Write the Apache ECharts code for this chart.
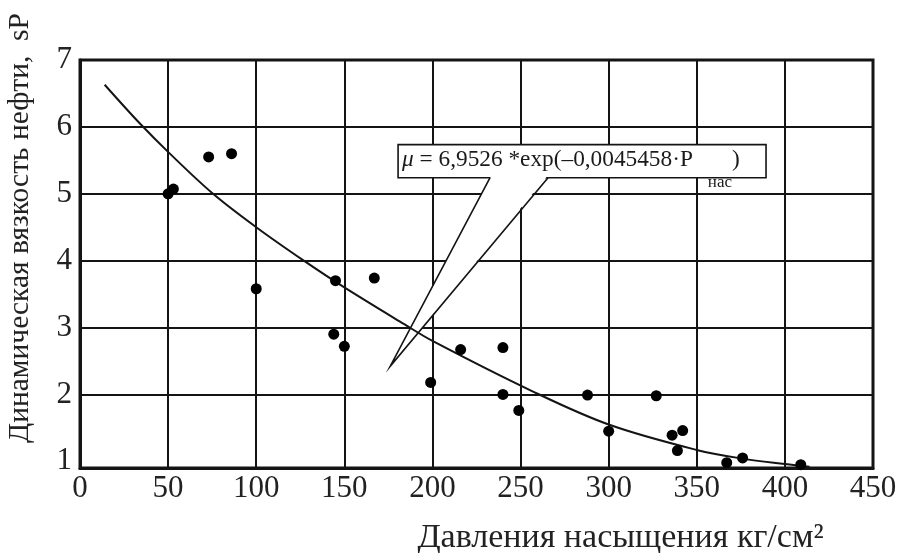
<!DOCTYPE html>
<html><head><meta charset="utf-8">
<script src="https://cdn.jsdelivr.net/npm/echarts@6/dist/echarts.min.js"></script>
<style>html,body{margin:0;padding:0;background:#fff}#c{width:897px;height:553px}</style>
</head><body><div id="c"></div>
<script>
// Measured points: saturation pressure (kg/cm2) vs. dynamic oil viscosity (sP)
const pressure  = [50, 53, 73, 86, 100, 145, 167, 144, 150, 199, 216, 240, 240, 249, 288, 327, 300, 336, 342, 339, 367, 376, 409];
const viscosity = [5.0, 5.07, 5.55, 5.6, 3.58, 3.7, 3.74, 2.9, 2.72, 2.18, 2.67, 2.70, 2.0, 1.76, 1.99, 1.98, 1.45, 1.39, 1.46, 1.16, 0.98, 1.05, 0.95];

// Trend curve as drawn in the figure
const curvePressure  = [14, 34, 51, 75.5, 100, 127, 150, 184, 200, 256.5, 300, 350, 376, 400, 414];
const curveViscosity = [6.63, 6.05, 5.6, 5.0, 4.5, 4.0, 3.6, 3.05, 2.8, 2.05, 1.55, 1.17, 1.04, 0.96, 0.92];

// Axis ticks / grid lines
const xGridValues = [50, 100, 150, 200, 250, 300, 350, 400];
const yGridValues = [2, 3, 4, 5, 6];

// Labels
const xAxisName = 'Давления насыщения кг/см²';
const yAxisName = 'Динамическая вязкость нефти,  sP';
const formulaRich = '{i|μ} = 6,9526 *exp(–0,0045458·P{s|нас})';

// Callout anchors (data coordinates)
const calloutTopLeft = [180.5, 5.735];
const calloutBottomRight = [389.3, 5.24];
const calloutBaseX = [232.7, 265.6];
const calloutTip = [176, 2.42];

const FONT = '"Liberation Serif", "Times New Roman", serif';
const INK = '#141414';

const chart = echarts.init(document.getElementById('c'), null, {renderer: 'canvas'});

const gridLineData = yGridValues.map(v => ({yAxis: v})).concat(xGridValues.map(v => ({xAxis: v})));

chart.setOption({
  animation: false,
  backgroundColor: '#fff',
  grid: {left: 80, right: 24, top: 60, bottom: 85, containLabel: false, outerBoundsMode: 'none',
         show: true, borderColor: INK, borderWidth: 3, backgroundColor: 'transparent'},
  xAxis: {
    type: 'value', min: 0, max: 450, interval: 50,
    name: xAxisName, nameLocation: 'middle', nameGap: 53,
    nameTextStyle: {fontFamily: FONT, fontSize: 34, color: '#222', padding: [0, 0, 0, 288]},
    axisLine: {show: true, lineStyle: {color: INK, width: 3}},
    axisTick: {show: false},
    splitLine: {show: false},
    axisLabel: {fontFamily: FONT, fontSize: 31, color: '#222', margin: 5}
  },
  yAxis: {
    type: 'value', min: 0.9, max: 7, splitNumber: 6,
    name: yAxisName, nameLocation: 'middle', nameGap: 45, nameRotate: 90,
    nameTextStyle: {fontFamily: FONT, fontSize: 29.5, color: '#222', padding: [0, 0, 0, 72]},
    axisLine: {show: true, lineStyle: {color: INK, width: 3}},
    axisTick: {show: false},
    splitLine: {show: false},
    axisLabel: {fontFamily: FONT, fontSize: 31, color: '#222', margin: 8,
      formatter: v => (Math.abs(v - Math.round(v)) < 1e-6 ? String(Math.round(v)) : '')}
  },
  series: [
    {
      type: 'line', data: [], z: 1, silent: true,
      markLine: {
        silent: true, symbol: 'none', animation: false, z: 1,
        label: {show: false},
        lineStyle: {color: INK, width: 2, type: 'solid'},
        emphasis: {disabled: true},
        data: gridLineData
      }
    },
    {
      type: 'custom', z: 2, silent: true, data: [[0]],
      renderItem: function (params, api) {
        const tl = api.coord(calloutTopLeft);
        const br = api.coord(calloutBottomRight);
        const b1 = api.coord([calloutBaseX[0], calloutBottomRight[1]]);
        const b2 = api.coord([calloutBaseX[1], calloutBottomRight[1]]);
        const tip = api.coord(calloutTip);
        return {
          type: 'group',
          children: [
            {type: 'rect', shape: {x: tl[0], y: tl[1], width: br[0] - tl[0], height: br[1] - tl[1]},
             style: {fill: '#fff', stroke: INK, lineWidth: 1.6}},
            {type: 'polygon', shape: {points: [[b1[0] + 1, b1[1] - 1.5], [tip[0], tip[1]], [b2[0] - 1, b2[1] - 1.5]]},
             style: {fill: '#fff', stroke: null}},
            {type: 'polyline', shape: {points: [b1, tip, b2]},
             style: {fill: null, stroke: INK, lineWidth: 1.6}},
            {type: 'text', x: tl[0] + 4, y: (tl[1] + br[1]) / 2 - 1,
             style: {
               text: formulaRich, fontFamily: FONT, fontSize: 23.3, fill: '#1a1a1a',
               align: 'left', verticalAlign: 'middle',
               rich: {
                 i: {fontFamily: FONT, fontSize: 23.3, fontStyle: 'italic', fill: '#1a1a1a'},
                 s: {fontFamily: FONT, fontSize: 17, fill: '#1a1a1a', padding: [44, 0, 0, 15]}
               }
             }}
          ]
        };
      }
    },
    {
      type: 'line', z: 3, silent: true, smooth: 0.35, showSymbol: false, symbol: 'none',
      lineStyle: {color: INK, width: 2},
      data: curvePressure.map((p, i) => [p, curveViscosity[i]])
    },
    {
      type: 'scatter', z: 4, silent: true, symbol: 'circle', symbolSize: 11,
      itemStyle: {color: '#000', opacity: 1},
      data: pressure.map((p, i) => [p, viscosity[i]])
    }
  ]
});
</script>
</body></html>
